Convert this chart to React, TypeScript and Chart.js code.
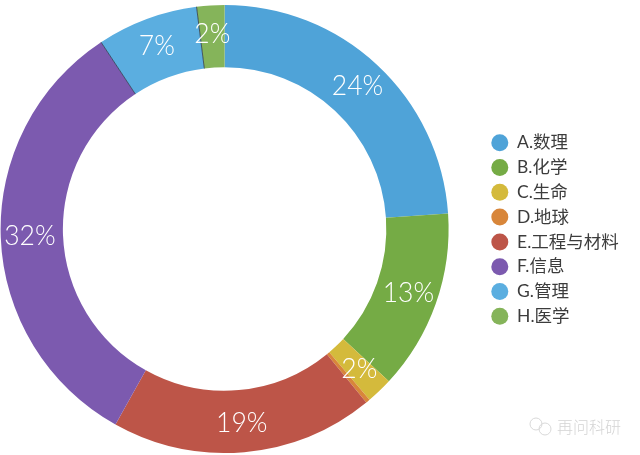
import React, { useEffect, useRef } from "react";
import { Chart, registerables } from "chart.js";

Chart.register(...registerables);

const categories = ["A.数理", "B.化学", "C.生命", "D.地球", "E.工程与材料", "F.信息", "G.管理", "H.医学"];
const shares = [23.9, 13, 1.9, 0.3, 19, 32.6, 7.3, 2];
const shareLabels = ["24%", "13%", "2%", "", "19%", "32%", "7%", "2%"];
const colors = ["#4FA3D8", "#75AB45", "#D4BA3C", "#D8863A", "#BD5548", "#7C5AAF", "#5BAEE0", "#85B45A"];
const darkEdges = [6, 7];
const watermark = "再问科研";

const sliceText = {
  id: "sliceText",
  afterDatasetsDraw(chart: any) {
    const { ctx } = chart;
    const arcs = chart.getDatasetMeta(0).data;
    ctx.save();
    // dark seams at the start of selected slices
    ctx.strokeStyle = "rgba(40,50,70,0.75)";
    ctx.lineWidth = 1;
    darkEdges.forEach((i) => {
      const a = arcs[i];
      ctx.beginPath();
      ctx.moveTo(a.x + Math.cos(a.startAngle) * a.innerRadius, a.y + Math.sin(a.startAngle) * a.innerRadius);
      ctx.lineTo(a.x + Math.cos(a.startAngle) * a.outerRadius, a.y + Math.sin(a.startAngle) * a.outerRadius);
      ctx.stroke();
    });
    ctx.fillStyle = "#fff";
    ctx.font = "300 26.5px Lato, 'Noto Sans'";
    ctx.textAlign = "center";
    ctx.textBaseline = "middle";
    arcs.forEach((a: any, i: number) => {
      const mid = (a.startAngle + a.endAngle) / 2;
      const r = (a.innerRadius + a.outerRadius) / 2 + 2;
      ctx.fillText(shareLabels[i], a.x + Math.cos(mid) * r, a.y + Math.sin(mid) * r);
    });
    // watermark
    ctx.fillStyle = "#d4d4d4";
    ctx.font = "300 16px 'Noto Sans CJK SC'";
    ctx.textAlign = "left";
    ctx.fillText(watermark, 557, 427);
    ctx.strokeStyle = "#d8d8d8";
    ctx.lineWidth = 1;
    ctx.beginPath();
    ctx.arc(536, 424, 6, 0, Math.PI * 2);
    ctx.stroke();
    ctx.beginPath();
    ctx.arc(545, 429, 6, 0, Math.PI * 2);
    ctx.stroke();
    ctx.restore();
  },
};

const legendShift = {
  id: "legendShift",
  afterLayout(chart: any) {
    const lg = chart.legend;
    const w = lg.width;
    const h = lg.height;
    const top = 229.5 - h / 2;
    lg.left = 484;
    lg.right = 484 + w;
    lg.top = top;
    lg.bottom = top + h;
  },
};

export default function App() {
  const ref = useRef<HTMLCanvasElement>(null);
  useEffect(() => {
    document.body.style.margin = "0";
    document.body.style.background = "#fff";
    const chart = new Chart(ref.current!, {
      type: "doughnut",
      data: {
        labels: categories,
        datasets: [{ data: shares, backgroundColor: colors, borderWidth: 0, hoverOffset: 0 }],
      },
      options: {
        responsive: false,
        animation: false,
        cutout: "72.2%",
        layout: { padding: { top: 5, bottom: 2, left: 0, right: 46 } },
        plugins: {
          tooltip: { enabled: false },
          legend: {
            position: "right",
            labels: {
              usePointStyle: true,
              pointStyle: "circle",
              boxHeight: 12,
              pointStyleWidth: 17,
              padding: 7.3,
              color: "#3c3c3c",
              font: { size: 17.5, family: "Lato, 'Noto Sans CJK SC'" },
            },
          },
        },
      },
      plugins: [sliceText, legendShift],
    });
    return () => chart.destroy();
  }, []);
  return <canvas ref={ref} width={640} height={455} style={{ display: "block", position: "absolute", left: 0, top: 0 }} />;
}
